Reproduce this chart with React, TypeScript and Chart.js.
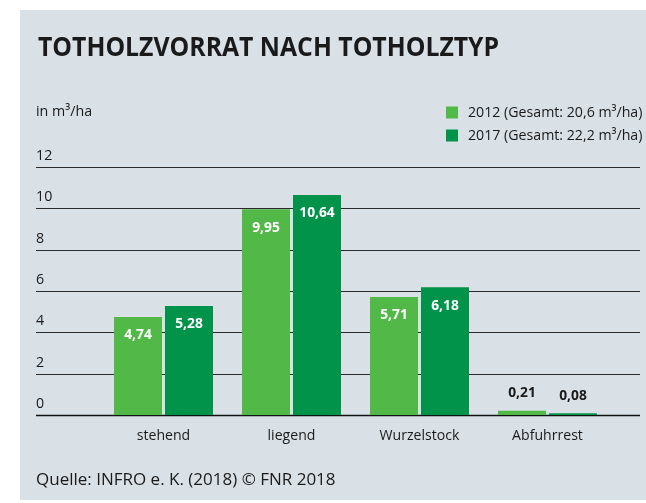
import React, { useEffect, useRef } from "react";
import { Chart, registerables } from "chart.js";

Chart.register(...registerables);

const categories = ["stehend", "liegend", "Wurzelstock", "Abfuhrrest"];
const values2012 = [4.74, 9.95, 5.71, 0.21];
const values2017 = [5.28, 10.64, 6.18, 0.08];
const seriesLabels = ["2012 (Gesamt: 20,6 m³/ha)", "2017 (Gesamt: 22,2 m³/ha)"];
const seriesColors = ["#52b848", "#009349"];
const yTicks = [0, 2, 4, 6, 8, 10, 12];
const titleText = "TOTHOLZVORRAT NACH TOTHOLZTYP";
const unitText = "in m³/ha";
const sourceText = "Quelle: INFRO e. K. (2018) © FNR 2018";

const FONT = "'Open Sans', sans-serif";
const TEXT = "#1a1a1a";
const BG = "#d9e0e6";

function drawText(
  ctx: CanvasRenderingContext2D,
  s: string,
  x: number,
  y: number,
  size: number,
  weight: string,
  color: string,
  align: CanvasTextAlign = "left",
  sx: number = 0.92
) {
  ctx.save();
  ctx.font = `${weight} ${size}px ${FONT}`;
  ctx.fillStyle = color;
  ctx.textBaseline = "middle";
  ctx.textAlign = align;
  ctx.translate(x, y);
  ctx.scale(sx, 1);
  ctx.fillText(s, 0, 0);
  ctx.restore();
}

const fmt = (v: number) => v.toFixed(2).replace(".", ",");

const decorPlugin = {
  id: "decor",
  beforeDraw(chart: any) {
    const ctx = chart.ctx as CanvasRenderingContext2D;
    ctx.save();
    ctx.fillStyle = "#ffffff";
    ctx.fillRect(0, 0, chart.width, chart.height);
    ctx.fillStyle = BG;
    ctx.fillRect(20, 10, chart.width - 20, 490);
    ctx.restore();
    drawText(ctx, titleText, 38, 49, 26, "bold", TEXT, "left", 0.953);
    drawText(ctx, unitText, 36, 112, 15, "normal", TEXT, "left", 0.95);
    chart.data.datasets.forEach((ds: any, i: number) => {
      const y = 112.5 + i * 23;
      ctx.fillStyle = ds.backgroundColor;
      ctx.fillRect(446, y - 6, 12, 12);
      drawText(ctx, ds.label, 468, y, 15, "normal", TEXT, "left", 0.945);
    });
    drawText(ctx, sourceText, 36, 480, 16.5, "normal", TEXT, "left", 1.03);
  },
  beforeDatasetsDraw(chart: any) {
    const ctx = chart.ctx as CanvasRenderingContext2D;
    const y = chart.scales.y;
    yTicks.forEach((t) => {
      const py = Math.round(y.getPixelForValue(t)) + 0.5;
      ctx.save();
      ctx.strokeStyle = t === 0 ? "#111" : "#2a2a2a";
      ctx.lineWidth = t === 0 ? 1.5 : 1.2;
      ctx.beginPath();
      ctx.moveTo(36, py);
      ctx.lineTo(640, py);
      ctx.stroke();
      ctx.restore();
      drawText(ctx, String(t), 36, py - 12, 15, "normal", TEXT, "left", 0.95);
    });
  },
  afterDatasetsDraw(chart: any) {
    const ctx = chart.ctx as CanvasRenderingContext2D;
    const x = chart.scales.x;
    const y0 = chart.scales.y.getPixelForValue(0);
    chart.data.labels.forEach((l: string, i: number) => {
      drawText(ctx, l, x.getPixelForValue(i), y0 + 21, 15, "normal", TEXT, "center", 0.94);
    });
    chart.data.datasets.forEach((ds: any, di: number) => {
      const meta = chart.getDatasetMeta(di);
      meta.data.forEach((bar: any, j: number) => {
        const v = ds.data[j];
        if (v >= 1) {
          drawText(ctx, fmt(v), bar.x, bar.y + 18, 15, "bold", "#ffffff", "center", 0.92);
        } else {
          drawText(ctx, fmt(v), bar.x, bar.y - 18, 15, "bold", TEXT, "center", 0.92);
        }
      });
    });
  },
};

export default function App() {
  const ref = useRef<HTMLCanvasElement | null>(null);
  useEffect(() => {
    document.body.style.margin = "0";
    const canvas = ref.current!;
    const chart = new Chart(canvas, {
      type: "bar",
      data: {
        labels: categories,
        datasets: [
          { label: seriesLabels[0], data: values2012, backgroundColor: seriesColors[0] },
          { label: seriesLabels[1], data: values2017, backgroundColor: seriesColors[1] },
        ],
      },
      options: {
        responsive: false,
        animation: false,
        devicePixelRatio: 1,
        layout: { padding: { left: 99.5, right: 34.5, top: 167, bottom: 88 } },
        datasets: {
          bar: { categoryPercentage: 102 / 128, barPercentage: 48 / 51 },
        },
        scales: {
          x: { display: false },
          y: { display: false, min: 0, max: 12 },
        },
        plugins: { legend: { display: false }, tooltip: { enabled: false }, title: { display: false } },
      },
      plugins: [decorPlugin],
    } as any);
    return () => chart.destroy();
  }, []);
  return (
    <div style={{ position: "absolute", left: 0, top: 0, width: 646, height: 503 }}>
      <canvas ref={ref} width={646} height={503} />
    </div>
  );
}
